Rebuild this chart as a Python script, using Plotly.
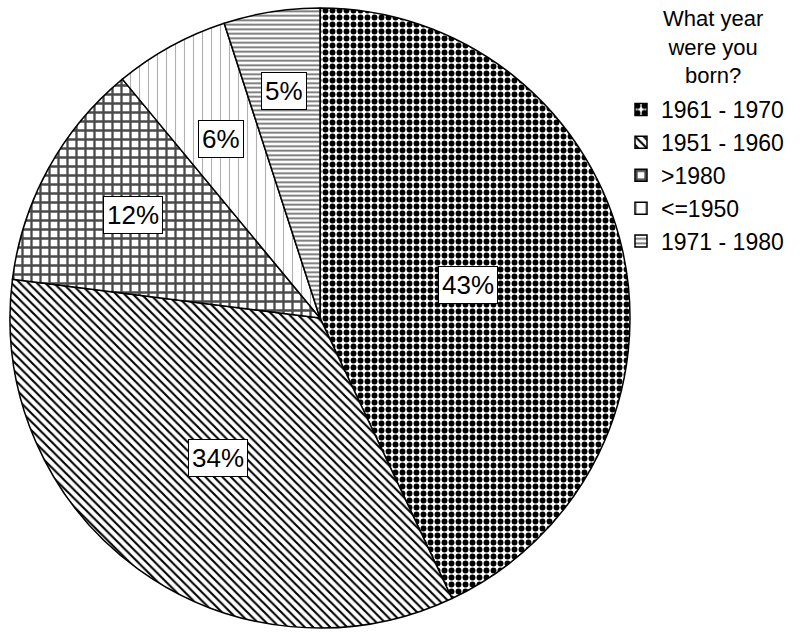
import math
import plotly.graph_objects as go

# Birth-year groups, in the order the slices are drawn (clockwise from 12 o'clock)
groups = ["1961 - 1970", "1951 - 1960", ">1980", "<=1950", "1971 - 1980"]
shares = [43, 34, 12, 6, 5]  # percent of respondents
legend_title = "What year<br>were you<br>born?"

# Fill patterns for each slice
pattern_shapes = [".", "\\", "+", "|", "-"]
pattern_fg = ["#000000", "#000000", "#4a4a4a", "#b0b0b0", "#6e6e6e"]
pattern_size = [7, 6, 9, 9, 4.5]
pattern_solid = [0.55, 0.35, 0.45, 0.12, 0.4]

# Where each percentage box sits along its slice's bisector (fraction of radius)
label_radius = [0.49, 0.56, 0.69, 0.66, 0.74]

W, H = 800, 633
FONT = "Arial, Liberation Sans, sans-serif"

dom_x = [10 / W, 630 / W]
dom_y = [5 / H, 625 / H]

fig = go.Figure(
    go.Pie(
        labels=groups,
        values=shares,
        sort=False,
        direction="clockwise",
        rotation=0,
        textinfo="none",
        hoverinfo="label+percent",
        domain=dict(x=dom_x, y=dom_y),
        marker=dict(
            colors=["white"] * len(groups),
            line=dict(color="black", width=1.5),
            pattern=dict(
                shape=pattern_shapes,
                fgcolor=pattern_fg,
                bgcolor=["white"] * len(groups),
                size=pattern_size,
                solidity=pattern_solid,
                fillmode="replace",
            ),
        ),
    )
)

# Percentage labels in white boxes, placed from the slice angles
cx = (dom_x[0] + dom_x[1]) / 2 * W
cy = (1 - (dom_y[0] + dom_y[1]) / 2) * H
radius = min((dom_x[1] - dom_x[0]) * W, (dom_y[1] - dom_y[0]) * H) / 2
total = sum(shares)
cum = 0
for val, frac in zip(shares, label_radius):
    mid = (cum + val / 2) / total * 2 * math.pi
    cum += val
    px = cx + frac * radius * math.sin(mid)
    py = cy - frac * radius * math.cos(mid)
    fig.add_annotation(
        x=px / W, y=1 - py / H, xref="paper", yref="paper",
        xanchor="center", yanchor="middle",
        text=f"{round(val / total * 100)}%",
        showarrow=False,
        font=dict(family=FONT, size=26, color="black"),
        bgcolor="white", bordercolor="black", borderwidth=1, borderpad=3,
    )

# Legend heading
fig.add_annotation(
    x=713 / W, y=1 - 47 / H, xref="paper", yref="paper",
    text=legend_title, showarrow=False, align="center",
    font=dict(family=FONT, size=22, color="black"),
    xanchor="center", yanchor="middle",
)

fig.update_layout(
    width=W, height=H,
    margin=dict(l=0, r=0, t=0, b=0),
    paper_bgcolor="white",
    plot_bgcolor="white",
    font=dict(family=FONT, color="black"),
    showlegend=True,
    legend=dict(
        x=621 / W, y=1 - 88 / H, xanchor="left", yanchor="top",
        font=dict(family=FONT, size=23, color="black"),
        bgcolor="rgba(0,0,0,0)",
        traceorder="normal",
    ),
)

fig.write_html("out.html")
